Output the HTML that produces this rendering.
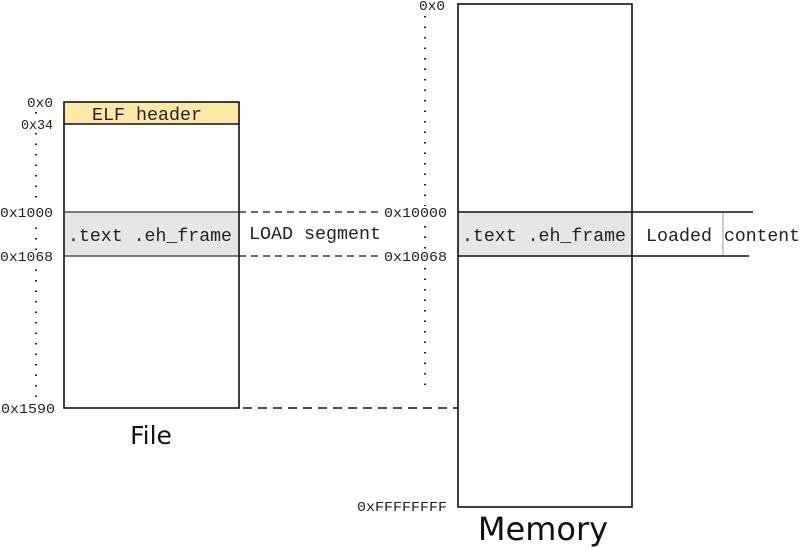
<!DOCTYPE html>
<html><head><meta charset="utf-8"><style>
html,body{margin:0;padding:0;background:#fff;}
svg{display:block}
.m{font-family:"Liberation Mono",monospace;font-size:18px;fill:#222}
.s{font-family:"Liberation Mono",monospace;font-size:14px;fill:#222}
</style></head><body>
<svg width="800" height="548" viewBox="0 0 800 548" xmlns="http://www.w3.org/2000/svg">
<line x1="36" y1="112" x2="36" y2="400" stroke="#222" stroke-width="2" stroke-dasharray="1.5 9"/>
<line x1="425" y1="16" x2="425" y2="392" stroke="#222" stroke-width="2" stroke-dasharray="1.5 9"/>
<rect x="64" y="102" width="175" height="22" fill="#fde9a3"/>
<rect x="64" y="212" width="175" height="44" fill="#e6e6e6"/>
<rect x="64" y="102" width="175" height="306" fill="none" stroke="#111" stroke-width="1.6"/>
<line x1="64" y1="124" x2="239" y2="124" stroke="#111" stroke-width="1.6"/>
<line x1="64" y1="212" x2="239" y2="212" stroke="#333" stroke-width="1.2"/>
<line x1="64" y1="256" x2="239" y2="256" stroke="#333" stroke-width="1.2"/>
<text class="m" x="92" y="120" textLength="110" lengthAdjust="spacingAndGlyphs">ELF header</text>
<text class="m" x="68" y="241" textLength="164" lengthAdjust="spacingAndGlyphs">.text .eh_frame</text>
<g fill="#fff"><rect x="26" y="96" width="28" height="12"/><rect x="18" y="118" width="36" height="12"/><rect x="0" y="206" width="54" height="13"/><rect x="0" y="250" width="54" height="13"/><rect x="0" y="402" width="56" height="13"/>
<rect x="415" y="0" width="32" height="12"/><rect x="383" y="206" width="66" height="13"/><rect x="383" y="250" width="66" height="13"/></g>
<text class="s" x="27" y="107" textLength="26" lengthAdjust="spacingAndGlyphs">0x0</text>
<text class="s" x="21" y="129" textLength="32" lengthAdjust="spacingAndGlyphs">0x34</text>
<text class="s" x="0" y="217" textLength="53" lengthAdjust="spacingAndGlyphs">0x1000</text>
<text class="s" x="0" y="261" textLength="53" lengthAdjust="spacingAndGlyphs">0x1068</text>
<text class="s" x="1" y="413" textLength="54" lengthAdjust="spacingAndGlyphs">0x1590</text>
<text x="151" y="444" text-anchor="middle" font-family="DejaVu Sans,sans-serif" font-size="25" fill="#111">File</text>
<line x1="239" y1="212" x2="382" y2="212" stroke="#111" stroke-width="1.3" stroke-dasharray="7 5"/>
<line x1="239" y1="256" x2="382" y2="256" stroke="#111" stroke-width="1.3" stroke-dasharray="7 5"/>
<line x1="243" y1="408" x2="458" y2="408" stroke="#111" stroke-width="1.6" stroke-dasharray="9 6"/>
<text class="m" x="249" y="239" textLength="132" lengthAdjust="spacingAndGlyphs">LOAD segment</text>
<rect x="458" y="212" width="174" height="44" fill="#e6e6e6"/>
<rect x="458" y="4" width="174" height="503" fill="none" stroke="#111" stroke-width="1.6"/>
<line x1="458" y1="212" x2="753" y2="212" stroke="#111" stroke-width="1.4"/>
<line x1="458" y1="256" x2="749" y2="256" stroke="#111" stroke-width="1.4"/>
<line x1="723" y1="213" x2="723" y2="255" stroke="#aaa" stroke-width="1.2"/>
<text class="m" x="462" y="241" textLength="164" lengthAdjust="spacingAndGlyphs">.text .eh_frame</text>
<text class="m" x="646" y="241" textLength="66" lengthAdjust="spacingAndGlyphs">Loaded</text>
<text class="m" x="724" y="241" textLength="76" lengthAdjust="spacingAndGlyphs">content</text>
<text class="s" x="419" y="10" textLength="26" lengthAdjust="spacingAndGlyphs">0x0</text>
<text class="s" x="384" y="217" textLength="63" lengthAdjust="spacingAndGlyphs">0x10000</text>
<text class="s" x="384" y="261" textLength="63" lengthAdjust="spacingAndGlyphs">0x10068</text>
<text class="s" x="357" y="511" textLength="90" lengthAdjust="spacingAndGlyphs">0xFFFFFFFF</text>
<text x="543" y="540" text-anchor="middle" font-family="DejaVu Sans,sans-serif" font-size="32" fill="#111">Memory</text>
</svg>
</body></html>
